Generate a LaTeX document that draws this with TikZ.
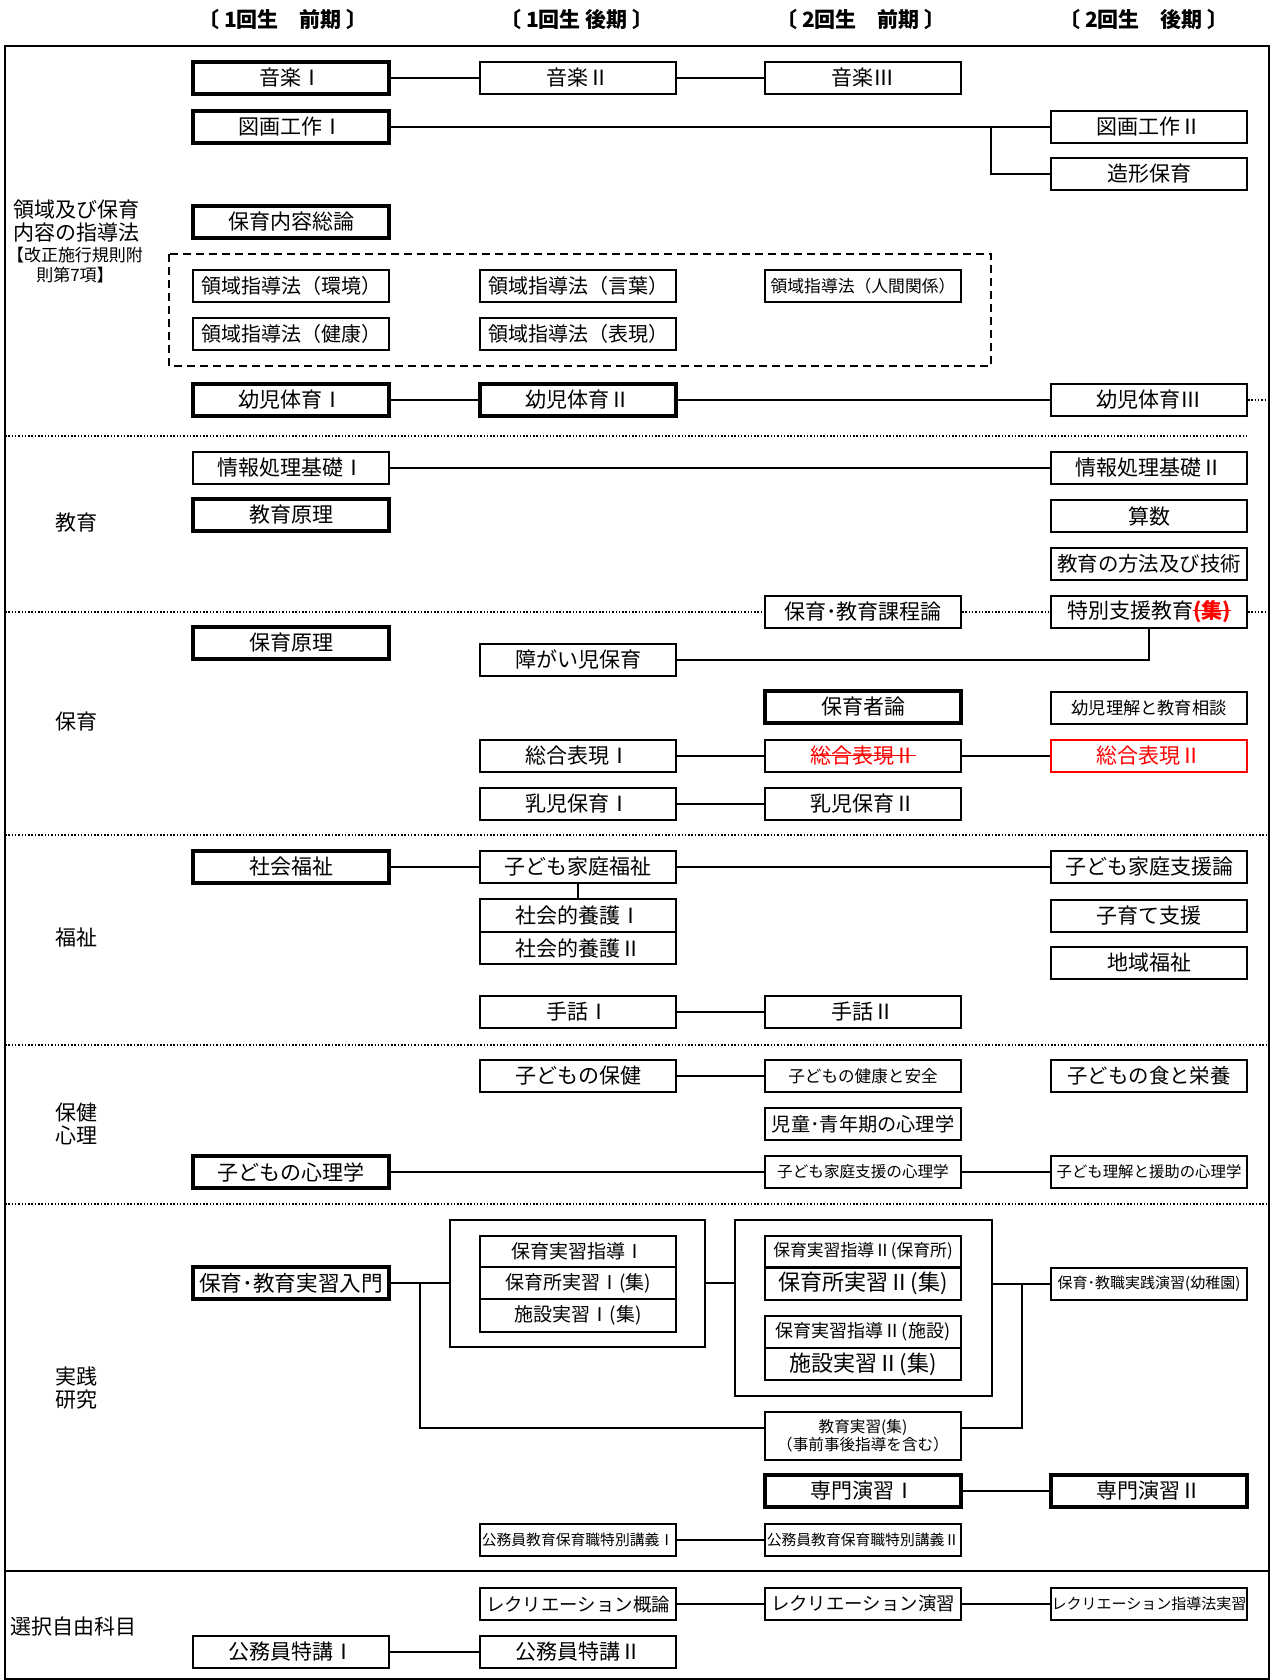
\documentclass[tikz,border=0pt]{standalone}
\usepackage{fontspec}
\setmainfont{Noto Sans CJK JP}
\newcommand\fsz[1]{\fontsize{#1}{#1}\selectfont}
\newcommand\kesen[1]{\setbox0\hbox{#1}\rlap{\raisebox{0.36em}{\rule{\wd0}{0.6pt}}}\box0}

\begin{document}
\begin{tikzpicture}[x=0.5pt,y=-0.5pt,
  subj/.style={draw, line width=1pt, minimum width=98pt, minimum height=16pt, inner sep=0pt, font=\fsz{10.5pt}},
  core/.style={subj, line width=2.2pt},
  grp/.style={draw, line width=1pt, inner sep=0pt},
  head/.style={font=\fsz{10.5pt}\bfseries},
  sect/.style={anchor=west, align=left, inner sep=0pt, font=\fontsize{10.5pt}{11.5pt}\selectfont},
  link/.style={line width=1pt},
  sep/.style={line width=0.75pt, dash pattern=on 0.75pt off 0.9pt},
  dashbox/.style={line width=0.8pt, dash pattern=on 4pt off 2.5pt}]
 \useasboundingbox (0,0) rectangle (1271,1680);

 \node[head] (h1) at (283,20) {〔 1回生　前期 〕};
 \node[head] (h2) at (577,20) {〔 1回生 後期 〕};
 \node[head] (h3) at (861,20) {〔 2回生　前期 〕};
 \node[head] (h4) at (1144,20) {〔 2回生　後期 〕};

 \coordinate (fl) at (5,46);
 \coordinate (fr) at (1269,1679);
 \draw[link] (fl) rectangle (fr);

 \node[align=center, inner sep=0pt, font=\fontsize{10.5pt}{11.5pt}\selectfont] (lab1) at (76,221) {領域及び保育\\内容の指導法};
 \node[align=center, inner sep=0pt, font=\fontsize{8.5pt}{10pt}\selectfont] (lab1b) at (75,265) {【改正施行規則附\\則第7項】};
 \node[sect] (lab2) at (55,523) {教育};
 \node[sect] (lab3) at (55,722) {保育};
 \node[sect] (lab4) at (55,938) {福祉};
 \node[sect] (lab5) at (55,1124) {保健\\心理};
 \node[sect] (lab6) at (55,1388) {実践\\研究};
 \node[sect] (lab7) at (10,1626) {選択自由科目};

 \node[core] (ongaku1) at (291,78) {音楽Ⅰ};
 \node[subj] (ongaku2) at (578,78) {音楽Ⅱ};
 \node[subj] (ongaku3) at (863,78) {音楽Ⅲ};
 \node[core] (zuga1) at (291,127) {図画工作Ⅰ};
 \node[subj] (zuga2) at (1149,127) {図画工作Ⅱ};
 \node[subj] (zokei) at (1149,174) {造形保育};
 \node[core] (naiyo) at (291,222) {保育内容総論};

 \draw[dashbox] (169,254) rectangle (991,366);
 \node[subj, font=\fsz{10pt}] (kankyo) at (291,286) {領域指導法（環境）};
 \node[subj, font=\fsz{10pt}] (kotoba) at (578,286) {領域指導法（言葉）};
 \node[subj, font=\fsz{8.4pt}] (ningen) at (863,286) {領域指導法（人間関係）};
 \node[subj, font=\fsz{10pt}] (kenko) at (291,334) {領域指導法（健康）};
 \node[subj, font=\fsz{10pt}] (hyogen) at (578,334) {領域指導法（表現）};

 \node[core] (taiiku1) at (291,400) {幼児体育Ⅰ};
 \node[core] (taiiku2) at (578,400) {幼児体育Ⅱ};
 \node[subj] (taiiku3) at (1149,400) {幼児体育Ⅲ};

 \node[subj] (joho1) at (291,468) {情報処理基礎Ⅰ};
 \node[subj] (joho2) at (1149,468) {情報処理基礎Ⅱ};
 \node[core] (kgenri) at (291,515) {教育原理};
 \node[subj] (sansu) at (1149,516) {算数};
 \node[subj, font=\fsz{10.2pt}] (hoho) at (1149,564) {教育の方法及び技術};
 \node[subj] (katei) at (863,612) {保育･教育課程論};
 \node[subj] (tokushi) at (1149,612) {特別支援教育\textcolor{red}{\kesen{\bfseries(集)}}};

 \node[core] (hgenri) at (291,643) {保育原理};
 \node[subj] (shogai) at (578,660) {障がい児保育};
 \node[core] (hoikusha) at (863,707) {保育者論};
 \node[subj, font=\fsz{8.6pt}] (rikai) at (1149,708) {幼児理解と教育相談};
 \node[subj] (sogo1) at (578,756) {総合表現Ⅰ};
 \node[subj, text=red] (sogo2x) at (863,756) {\kesen{総合表現Ⅱ}};
 \node[subj, draw=red, text=red] (sogo2) at (1149,756) {総合表現Ⅱ};
 \node[subj] (nyuji1) at (578,804) {乳児保育Ⅰ};
 \node[subj] (nyuji2) at (863,804) {乳児保育Ⅱ};

 \node[core] (shakai) at (291,867) {社会福祉};
 \node[subj] (kfukushi) at (578,867) {子ども家庭福祉};
 \node[subj] (kshien) at (1149,867) {子ども家庭支援論};
 \node[subj, minimum height=16.5pt] (yogo1) at (578,915.5) {社会的養護Ⅰ};
 \node[subj] (yogo2) at (578,948) {社会的養護Ⅱ};
 \node[subj] (kosodate) at (1149,916) {子育て支援};
 \node[subj] (chiiki) at (1149,963) {地域福祉};
 \node[subj] (shuwa1) at (578,1012) {手話Ⅰ};
 \node[subj] (shuwa2) at (863,1012) {手話Ⅱ};

 \node[subj] (hoken) at (578,1076) {子どもの保健};
 \node[subj, font=\fsz{8.3pt}] (anzen) at (863,1076) {子どもの健康と安全};
 \node[subj, font=\fsz{10.2pt}] (shoku) at (1149,1076) {子どもの食と栄養};
 \node[subj, font=\fsz{9.6pt}] (jido) at (863,1124) {児童･青年期の心理学};
 \node[core] (kshinri) at (291,1172) {子どもの心理学};
 \node[subj, font=\fsz{7.8pt}] (kkshinri) at (863,1172) {子ども家庭支援の心理学};
 \node[subj, font=\fsz{7.7pt}] (enjo) at (1149,1172) {子ども理解と援助の心理学};

 \node[core, font=\fsz{10.8pt}] (nyumon) at (291,1283) {保育･教育実習入門};
 \node[grp, minimum width=127.5pt, minimum height=63.5pt] (grp1) at (577.5,1283.5) {};
 \node[subj, minimum height=15.5pt, font=\fsz{9.5pt}] (shido1) at (578,1251.5) {保育実習指導Ⅰ};
 \node[subj, font=\fsz{9.5pt}] (hoiku1) at (578,1283) {保育所実習Ⅰ(集)};
 \node[subj, minimum height=16.5pt, font=\fsz{9.5pt}] (shisetsu1) at (578,1315.5) {施設実習Ⅰ(集)};
 \node[grp, minimum width=128.5pt, minimum height=88pt] (grp2) at (863.5,1308) {};
 \node[subj, minimum height=15.5pt, font=\fsz{8.4pt}] (shido2a) at (863,1251.5) {保育実習指導Ⅱ(保育所)};
 \node[subj, font=\fsz{11pt}] (hoiku2) at (863,1283.5) {保育所実習Ⅱ(集)};
 \node[subj, font=\fsz{9pt}] (shido2b) at (863,1332) {保育実習指導Ⅱ(施設)};
 \node[subj, font=\fsz{11pt}] (shisetsu2) at (863,1364) {施設実習Ⅱ(集)};
 \node[subj, font=\fsz{7.5pt}] (jissen) at (1149,1284) {保育･教職実践演習(幼稚園)};
 \node[subj, minimum height=24pt, align=center, font=\fontsize{7.8pt}{9pt}\selectfont] (kyoiku) at (863,1436) {教育実習(集)\\（事前事後指導を含む）};
 \node[core] (senmon1) at (863,1491) {専門演習Ⅰ};
 \node[core] (senmon2) at (1149,1491) {専門演習Ⅱ};
 \node[subj, font=\fsz{7.4pt}] (komuin1) at (578,1540) {公務員教育保育職特別講義Ⅰ};
 \node[subj, font=\fsz{7.4pt}] (komuin2) at (863,1540) {公務員教育保育職特別講義Ⅱ};

 \node[subj, font=\fsz{9.2pt}] (reku1) at (578,1604) {レクリエーション概論};
 \node[subj, line width=1.3pt, font=\fsz{9.2pt}] (reku2) at (863,1604) {レクリエーション演習};
 \node[subj, font=\fsz{7.5pt}] (reku3) at (1149,1604) {レクリエーション指導法実習};
 \node[subj] (tokko1) at (291,1652) {公務員特講Ⅰ};
 \node[subj] (tokko2) at (578,1652) {公務員特講Ⅱ};

 % section lines
 \draw[sep] (5,436) -- (1248,436);
 \draw[sep] (5,612) -- (katei.west);
 \draw[sep] (katei) -- (tokushi);
 \draw[sep] (tokushi.east) -- (tokushi.east -| fr);
 \draw[sep] (5,835) -- (1269,835);
 \draw[sep] (5,1045) -- (1269,1045);
 \draw[sep] (5,1204) -- (1269,1204);
 \draw[link] (5,1571) -- (1269,1571);
 \draw[sep] (taiiku3.east) -- (taiiku3.east -| fr);

 % links
 \draw[link] (ongaku1) -- (ongaku2);
 \draw[link] (ongaku2) -- (ongaku3);
 \draw[link] (zuga1) -- (zuga2);
 \coordinate (zbr) at (991,127);
 \draw[link] (zbr) |- (zokei);
 \draw[link] (taiiku1) -- (taiiku2);
 \draw[link] (taiiku2) -- (taiiku3);
 \draw[link] (joho1) -- (joho2);
 \draw[link] (shogai) -| (tokushi);
 \draw[link] (sogo1) -- (sogo2x);
 \draw[link] (sogo2x) -- (sogo2);
 \draw[link] (nyuji1) -- (nyuji2);
 \draw[link] (shakai) -- (kfukushi);
 \draw[link] (kfukushi) -- (kshien);
 \draw[link] (kfukushi) -- (yogo1);
 \draw[link] (shuwa1) -- (shuwa2);
 \draw[link] (hoken) -- (anzen);
 \draw[link] (kshinri) -- (kkshinri);
 \draw[link] (kkshinri) -- (enjo);
 \draw[link] (nyumon.east) -- (nyumon.east -| grp1.west);
 \draw[link] (grp1.east |- hoiku1) -- (grp2.west |- hoiku1);
 \draw[link] (grp2.east |- jissen) -- (jissen.west);
 \coordinate (nbr) at (420,1283);
 \coordinate (jbr) at (1022,1284);
 \draw[link] (nbr) |- ([yshift=4pt]kyoiku.west);
 \draw[link] (jbr) |- ([yshift=4pt]kyoiku.east);
 \draw[link] (senmon1) -- (senmon2);
 \draw[link] (komuin1) -- (komuin2);
 \draw[link] (reku1) -- (reku2);
 \draw[link] (reku2) -- (reku3);
 \draw[link] (tokko1) -- (tokko2);
\end{tikzpicture}
\end{document}
